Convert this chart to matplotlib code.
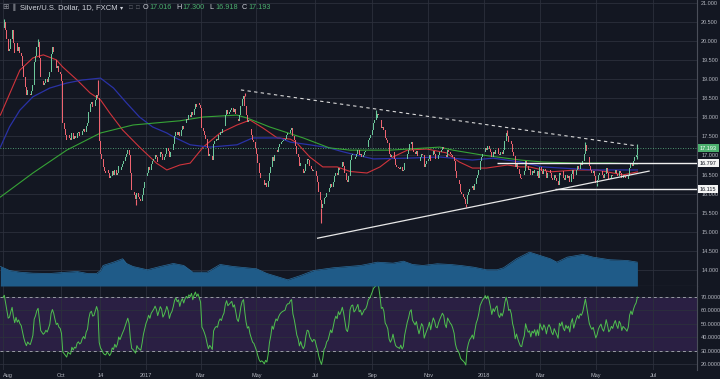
import numpy as np
import pandas as pd
import matplotlib
matplotlib.use("Agg")
import matplotlib.pyplot as plt

# ------------------------------------------------------------------ data
first_date, last_date = "2016-08-01", "2018-06-14"
first_open = 20.28
# daily closes, one row per week (Mon..Fri)
closes = [
    20.35, 20.50, 20.28, 20.05, 19.75,
    19.80, 20.05, 20.28, 19.95, 19.70,
    19.95, 19.75, 19.85, 19.70, 19.62,
    19.35, 19.05, 18.80, 18.60, 18.72,
    18.62, 18.58, 18.70, 18.85, 19.45,
    19.60, 19.85, 19.98, 19.55, 19.05,
    18.95, 18.85, 18.90, 19.00, 18.92,
    19.05, 19.20, 19.65, 19.85, 19.72,
    19.50, 19.30, 19.35, 19.20, 19.15,
    18.95, 17.85, 17.70, 17.55, 17.40,
    17.55, 17.45, 17.40, 17.60, 17.42,
    17.50, 17.45, 17.58, 17.62, 17.52,
    17.55, 17.65, 17.70, 17.62, 17.78,
    17.85, 18.15, 18.35, 18.40, 18.28,
    18.30, 18.45, 18.60, 18.50, 17.38,
    17.05, 16.90, 16.70, 16.58, 16.55,
    16.62, 16.55, 16.40, 16.45, 16.58,
    16.50, 16.62, 16.48, 16.55, 16.72,
    16.62, 16.70, 16.78, 16.85, 16.95,
    17.05, 17.15, 17.02, 16.55, 16.10,
    16.05, 15.95, 15.85, 16.02, 15.90,
    15.85, 15.80, 15.95, 16.15, 16.30,
    16.45, 16.55, 16.70, 16.62, 16.78,
    16.85, 16.92, 17.02, 16.95, 16.82,
    16.95, 17.10, 17.05, 16.88, 16.95,
    17.05, 17.20, 17.12, 16.95, 17.08,
    17.15, 17.30, 17.52, 17.62, 17.55,
    17.62, 17.50, 17.68, 17.78, 17.70,
    17.85, 17.95, 17.92, 18.05, 18.02,
    18.15, 18.05, 18.22, 18.35, 18.28,
    18.38, 18.32, 18.25, 17.72, 17.65,
    17.55, 17.42, 17.20, 16.98, 17.05,
    16.98, 16.88, 17.30, 17.38, 17.42,
    17.40, 17.55, 17.62, 17.58, 17.70,
    17.78, 18.05, 18.20, 18.10, 18.15,
    18.20, 18.25, 18.15, 18.22, 18.10,
    17.95, 17.90, 18.05, 18.30, 18.48,
    18.55, 18.30, 18.05, 17.88, 17.92,
    17.70, 17.55, 17.40, 17.35, 17.20,
    17.05, 16.80, 16.55, 16.40, 16.42,
    16.35, 16.22, 16.28, 16.18, 16.32,
    16.55, 16.70, 16.95, 16.85, 17.02,
    17.15, 17.10, 17.22, 17.30, 17.35,
    17.38, 17.40, 17.42, 17.55, 17.60,
    17.60, 17.68, 17.72, 17.50, 17.40,
    17.25, 17.05, 16.95, 16.72, 16.80,
    16.65, 16.55, 16.60, 16.78, 16.90,
    16.88, 16.72, 16.65, 16.58, 16.62,
    16.60, 16.45, 16.30, 16.05, 15.82,
    15.62, 15.72, 15.88, 15.92, 16.02,
    16.05, 16.15, 16.25, 16.18, 16.30,
    16.45, 16.55, 16.50, 16.68, 16.62,
    16.70, 16.82, 16.72, 16.55, 16.35,
    16.30, 16.45, 16.88, 17.02, 17.05,
    16.90, 16.95, 17.05, 17.15, 17.00,
    17.05, 16.95, 17.02, 17.10, 17.12,
    17.22, 17.40, 17.45, 17.55, 17.68,
    17.85, 17.92, 17.98, 18.10, 18.05,
    17.92, 17.72, 17.75, 17.68, 17.45,
    17.40, 17.32, 17.05, 16.95, 17.00,
    17.10, 16.92, 16.75, 16.70, 16.68,
    16.65, 16.70, 16.58, 16.62, 16.80,
    16.92, 17.05, 17.15, 17.30, 17.35,
    17.15, 17.10, 17.05, 17.12, 16.98,
    16.85, 16.95, 17.05, 17.00, 16.70,
    16.78, 16.85, 16.92, 17.02, 16.85,
    17.00, 17.12, 17.05, 16.92, 16.90,
    17.00, 17.08, 17.15, 17.22, 17.18,
    17.02, 16.95, 17.15, 17.10, 17.05,
    17.02, 16.95, 16.85, 16.58, 16.42,
    16.35, 16.25, 16.05, 15.98, 15.92,
    15.85, 15.72, 15.95, 16.05, 16.12,
    16.15, 16.20, 16.10, 16.25, 16.40,
    16.48, 16.62, 16.85, 16.95, 17.05,
    17.10, 17.20, 17.15, 17.25, 17.18,
    17.08, 16.95, 17.10, 17.05, 17.15,
    17.20, 17.05, 17.00, 17.10, 17.05,
    17.15, 17.38, 17.58, 17.50, 17.35,
    17.38, 17.30, 17.10, 16.98, 16.70,
    16.80, 16.65, 16.52, 16.40, 16.38,
    16.50, 16.58, 16.85, 16.72, 16.62,
    16.65, 16.48, 16.60, 16.55, 16.62,
    16.45, 16.58, 16.42, 16.70, 16.60,
    16.52, 16.65, 16.58, 16.40, 16.55,
    16.62, 16.55, 16.42, 16.35, 16.48,
    16.40, 16.32, 16.22, 16.55, 16.48,
    16.58, 16.42, 16.35, 16.48, 16.40,
    16.45, 16.30, 16.52, 16.62, 16.38,
    16.50, 16.62, 16.72, 16.65, 16.78,
    16.75, 16.85, 17.05, 17.28, 17.12,
    16.95, 16.72, 16.62, 16.55, 16.60,
    16.45, 16.28, 16.35, 16.48, 16.55,
    16.60, 16.48, 16.42, 16.52, 16.68,
    16.55, 16.38, 16.42, 16.50, 16.45,
    16.55, 16.62, 16.52, 16.45, 16.60,
    16.55, 16.40, 16.48, 16.45, 16.42,
    16.38, 16.45, 16.68, 16.78, 16.72,
    16.85, 16.95, 17.016, 17.193,
]
# July 2016 closes (only used to warm up the RSI)
prior_closes = [18.72, 19.63, 19.95, 19.72, 19.88, 19.70, 19.88, 20.25, 20.15, 20.33, 20.38,
                20.15, 20.05, 19.55, 19.42, 19.65, 19.58, 19.60, 19.98, 20.02, 20.12, 20.28]
# visible wicks (trading-day number, price)
hi_days = [1, 27, 73, 186, 287, 388, 448, 488]
hi_vals = [20.58, 20.05, 18.98, 18.64, 18.20, 17.68, 17.35, 17.300]
lo_days = [102, 245, 356, 457, 488]
lo_vals = [15.70, 15.23, 15.65, 16.20, 16.918]

# moving averages (trading-day number, price)
red_day = [-2, 13, 23, 31, 41, 46, 57, 67, 75, 82, 92, 105, 118, 126, 136, 144, 154, 167, 180, 190,
           200, 211, 221, 226, 236, 246, 257, 267, 280, 290, 300, 311, 326, 341, 351, 361, 372, 388,
           398, 405, 421, 441, 457, 477, 488]
red_val = [18.06, 19.24, 19.56, 19.64, 19.51, 19.32, 18.98, 18.64, 18.46, 18.12, 17.67, 17.22, 16.80,
           16.62, 16.75, 16.80, 17.22, 17.59, 17.80, 17.93, 17.72, 17.46, 17.43, 17.33, 16.96, 16.70,
           16.70, 16.58, 16.54, 16.70, 16.96, 17.14, 17.17, 17.07, 16.83, 16.67, 16.67, 16.75, 16.70,
           16.70, 16.57, 16.62, 16.62, 16.49, 16.57]
blue_day = [-2, 5, 13, 23, 36, 49, 61, 75, 85, 95, 105, 115, 126, 131, 144, 159, 180, 192, 213, 221,
            236, 251, 259, 267, 285, 311, 336, 361, 377, 398, 415, 454, 488]
blue_val = [17.22, 17.75, 18.19, 18.54, 18.77, 18.90, 18.98, 19.03, 18.77, 18.38, 18.01, 17.75, 17.59,
            17.49, 17.28, 17.22, 17.28, 17.46, 17.46, 17.35, 17.28, 17.20, 17.12, 17.05, 16.91, 16.93,
            16.96, 16.88, 16.93, 16.83, 16.70, 16.62, 16.62]
green_day = [-2, 23, 49, 75, 100, 126, 136, 154, 180, 188, 205, 231, 251, 267, 298, 336, 346, 369,
             398, 415, 441, 467, 488]
green_val = [15.91, 16.54, 17.14, 17.59, 17.80, 17.88, 17.91, 18.01, 18.06, 17.98, 17.75, 17.46, 17.20,
             17.14, 17.14, 17.22, 17.14, 17.01, 16.88, 16.83, 16.80, 16.80, 16.78]

# volume moving average (trading-day number, thousands)
vol_day = [-2, 5, 13, 23, 36, 49, 57, 65, 72, 75, 77, 85, 92, 95, 100, 111, 121, 131, 139, 146, 157,
           167, 177, 195, 203, 219, 229, 239, 254, 275, 288, 300, 308, 315, 323, 334, 344, 352, 362,
           372, 380, 385, 395, 405, 413, 421, 426, 434, 446, 454, 467, 480, 488]
vol_ma = [19.5, 15.5, 13.8, 12.8, 12.5, 13.8, 14.5, 12.5, 12.5, 15.5, 20.5, 23.8, 27.2, 22.5, 19.5,
          16.2, 19.5, 22.5, 20.5, 13.8, 13.8, 21.5, 19.5, 17.2, 12.5, 6.2, 10.5, 15.5, 18.2, 20.5,
          23.8, 22.8, 24.8, 21.5, 20.5, 22.2, 21.5, 20.5, 18.8, 16.2, 16.2, 18.2, 27.2, 33.8, 30.5,
          27.2, 23.8, 28.8, 31.5, 28.8, 26.2, 25.5, 23.8]

tick_dates = ["2016-08-01", "2016-10-03", "2016-11-14", "2017-01-02", "2017-03-01", "2017-05-01",
              "2017-07-03", "2017-09-01", "2017-11-01", "2018-01-01", "2018-03-01", "2018-05-01",
              "2018-07-02"]
tick_labels = ["Aug", "Oct", "14", "2017", "Mar", "May", "Jul", "Sep", "Nov", "2018", "Mar", "May", "Jul"]
price_ticks = [14.0, 14.5, 15.0, 15.5, 16.0, 16.5, 17.0, 17.5, 18.0, 18.5, 19.0, 19.5, 20.0, 20.5, 21.0]
rsi_ticks = [20, 30, 40, 50, 60, 70]

last_ohlc = {"O": 17.016, "H": 17.300, "L": 16.918, "C": 17.193}
level_top, level_top_from = 16.797, "2018-01-15"
level_bot, level_bot_from = 16.115, "2018-03-19"
upper_trend_dates = ["2017-04-13", "2018-06-14"]
upper_trend_prices = [18.72, 17.25]
lower_trend_dates = ["2017-07-05", "2018-06-27"]
lower_trend_prices = [14.83, 16.59]

# ------------------------------------------------------------------ style
BG = "#131722"
GRID = "#2c303c"
TXT = "#b2b5be"
UP, DN = "#6cc79b", "#ef6470"
RED_MA, BLUE_MA, GREEN_MA = "#d0343c", "#2a32a6", "#36a336"
VOL = "#1f5b88"
RSI_LINE, RSI_BAND = "#4fc04f", "#2a1f43"
FONT = ["Liberation Sans", "DejaVu Sans"]
plt.rcParams["font.family"] = FONT

days = pd.bdate_range(first_date, last_date)
ext = pd.bdate_range(first_date, "2018-09-28")
n = min(len(days), len(closes))
c = np.array(closes[:n], dtype=float)
o = np.concatenate([[first_open], c[:-1]])
x = np.arange(n)

def day_no(d):
    return ext.get_loc(pd.Timestamp(d))

W, H = 720, 379
px_per_bar = 1.3
x_left = -3 / px_per_bar
x_right = x_left + 697 / px_per_bar

fig = plt.figure(figsize=(W / 100, H / 100), dpi=100, facecolor=BG)
axp = fig.add_axes([0, (H - 286) / H, 697 / W, 286 / H], facecolor=BG)
axr = fig.add_axes([0, (H - 370) / H, 697 / W, 84 / H], facecolor=BG, sharex=axp)

# ---- price pane
axp.set_xlim(x_left, x_right)
axp.set_ylim(13.575, 21.08)
axv = axp.twinx()
axv.set_ylim(0, 285.5)
axv.set_yticks([])
axv.fill_between(vol_day, vol_ma, 0, color=VOL, lw=0, zorder=1)
axv.plot(vol_day, vol_ma, color="#2b6e9e", lw=0.5)
for s in axv.spines.values():
    s.set_visible(False)

up = c >= o
cols = np.where(up, UP, DN)
body_lo = np.minimum(o, c)
body_h = np.maximum(np.abs(c - o), 0.012)
axp.bar(x, body_h, bottom=body_lo, width=0.75, color=cols, linewidth=0, zorder=5)
for d, v in zip(hi_days, hi_vals):
    axp.vlines(d, max(o[d], c[d]), v, color=cols[d], lw=0.8, zorder=5)
for d, v in zip(lo_days, lo_vals):
    axp.vlines(d, v, min(o[d], c[d]), color=cols[d], lw=0.8, zorder=5)

axp.plot(red_day, red_val, color=RED_MA, lw=0.8, zorder=4)
axp.plot(blue_day, blue_val, color=BLUE_MA, lw=0.9, zorder=4)
axp.plot(green_day, green_val, color=GREEN_MA, lw=0.8, zorder=4)

axp.plot([day_no(d) for d in upper_trend_dates], upper_trend_prices, color="#d8d8d8",
         lw=0.8, ls=(0, (3, 3)), zorder=6)
axp.plot([day_no(d) for d in lower_trend_dates], lower_trend_prices, color="#e8e8e8", lw=0.9, zorder=6)
axp.hlines(level_top, day_no(level_top_from), x_right, color="#f0f0f0", lw=1.0, zorder=6)
axp.hlines(level_bot, day_no(level_bot_from), x_right, color="#f0f0f0", lw=1.0, zorder=6)
axp.axhline(last_ohlc["C"], color="#5fbf8a", lw=0.6, ls=(0, (1, 2)), zorder=3)

axp.set_yticks(price_ticks)
axp.set_yticklabels([f"{v:.3f}" for v in price_ticks])
axp.yaxis.tick_right()
axp.tick_params(axis="y", length=0, pad=3, labelsize=4, labelcolor=TXT)
axp.tick_params(axis="x", length=0, labelbottom=False)
axp.grid(True, color=GRID, lw=0.6)
axp.set_axisbelow(True)
for k, s in axp.spines.items():
    s.set_visible(k in ("right", "bottom"))
    s.set_color("#4a4e59")
    s.set_linewidth(0.8)

def tag(val, fc, tc):
    axp.annotate(f"{val:.3f}", xy=(1, val), xycoords=("axes fraction", "data"),
                 xytext=(2.2, 0), textcoords="offset points", ha="left", va="center",
                 fontsize=4, color=tc, annotation_clip=False, zorder=10,
                 bbox=dict(boxstyle="square,pad=0.3", fc=fc, ec="none"))

tag(last_ohlc["C"], "#4caf6e", "white")
tag(level_top, "#f4f4f4", "#131722")
tag(level_bot, "#f4f4f4", "#131722")

# ---- RSI pane
allc = np.array(prior_closes + list(c))
dif = np.diff(allc)
gain, loss = np.clip(dif, 0, None), np.clip(-dif, 0, None)
per = 14
ag, al = gain[:per].mean(), loss[:per].mean()
rsi_all = [np.nan] * per
for i in range(per, len(dif)):
    ag = (ag * (per - 1) + gain[i]) / per
    al = (al * (per - 1) + loss[i]) / per
    rsi_all.append(100 - 100 / (1 + ag / al) if al > 0 else 100.0)
rsi = np.array(rsi_all)[len(prior_closes) - 1:]

axr.set_ylim(15.5, 78.2)
axr.axhspan(30, 70, color=RSI_BAND, lw=0, zorder=0)
axr.axhline(70, color="#9a9ca6", lw=0.7, ls=(0, (3, 3)), zorder=2)
axr.axhline(30, color="#9a9ca6", lw=0.7, ls=(0, (3, 3)), zorder=2)
axr.plot(x, rsi[:n], color=RSI_LINE, lw=0.7, zorder=3)
axr.set_yticks(rsi_ticks)
axr.set_yticklabels([f"{v:.4f}" for v in rsi_ticks])
axr.yaxis.tick_right()
axr.tick_params(axis="y", length=0, pad=3, labelsize=4, labelcolor=TXT)
axr.set_xticks([day_no(d) for d in tick_dates])
axr.set_xticklabels(tick_labels)
axr.tick_params(axis="x", length=0, pad=2.5, labelsize=4, labelcolor=TXT)
for lab in axr.get_xticklabels()[:1]:
    lab.set_horizontalalignment("left")
axr.grid(True, color=GRID, lw=0.6)
axr.set_axisbelow(True)
for k, s in axr.spines.items():
    s.set_visible(k == "right")
    s.set_color("#4a4e59")
    s.set_linewidth(0.8)

# ---- header
def ftxt(px, text, color, size=5.2, **kw):
    fig.text(px / W, 1 - 7.5 / H, text, color=color, fontsize=size, va="center", ha="left",
             family=FONT, **kw)

ftxt(2, "⊞", "#8a8d96", 5.5)
ftxt(11, "▐", "#6a6d76", 4.5)
ftxt(20, "Silver/U.S. Dollar, 1D, FXCM", "#d1d4dc", 5.5)
ftxt(120, "▾", "#d1d4dc", 4.5)
ftxt(129, "□", "#6a6d76", 4.5)
ftxt(136, "□", "#6a6d76", 4.5)
xpos = 143
for k in ["O", "H", "L", "C"]:
    ftxt(xpos, k, "#d1d4dc")
    ftxt(xpos + 6.5, f"{last_ohlc[k]:.3f}", "#4caf6e")
    xpos += 33

fig.savefig("out.png", dpi=100, facecolor=BG)
